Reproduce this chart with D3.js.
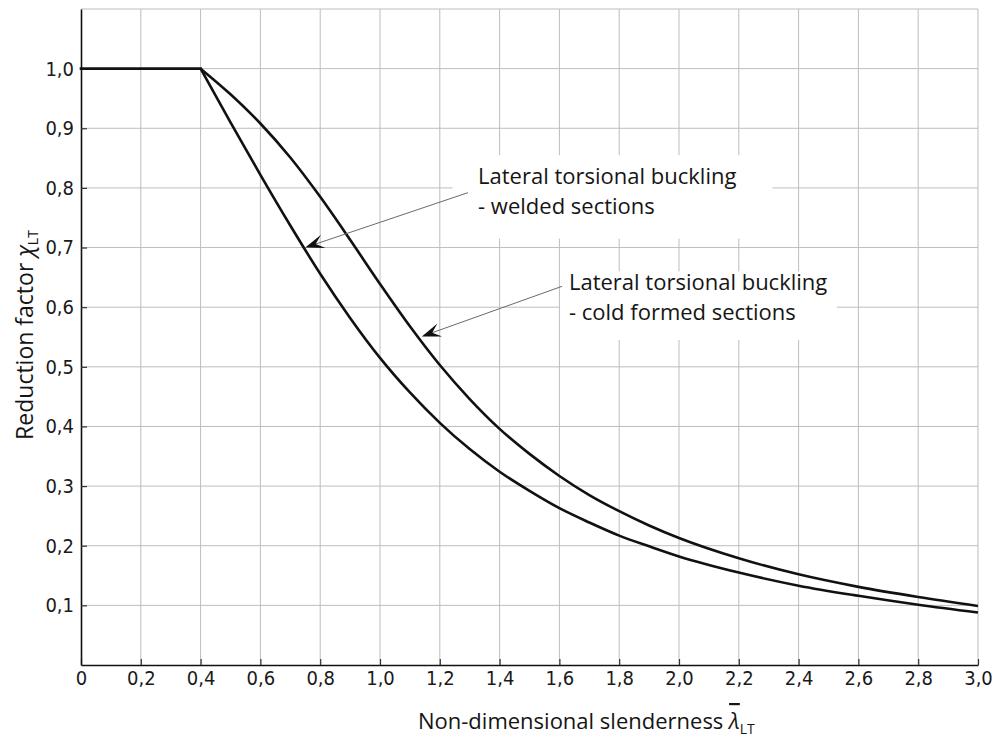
<!DOCTYPE html>
<meta charset="utf-8">
<style>
body { margin: 0; background: #fff; }
.grid line { stroke: #bdbdbd; stroke-width: 1; }
.axis path { stroke: #111; stroke-width: 1.6; }
.axis line { stroke: #333; stroke-width: 1.2; }
.axis text { font-family: "Liberation Sans Narrow", "DejaVu Sans Condensed", sans-serif; font-size: 20px; fill: #1a1a1a; }
.curve { fill: none; stroke: #111; stroke-width: 2.6; }
.note { font: 22px "Open Sans", sans-serif; fill: #151515; }
.title { font: 23px "Open Sans", sans-serif; fill: #151515; }
</style>
<svg width="997" height="738"></svg>
<script src="https://d3js.org/d3.v7.min.js"></script>
<script>

// values
var slenderness = [0.4, 0.5, 0.6, 0.7, 0.8, 0.9, 1.0, 1.1, 1.2, 1.3, 1.4, 1.5, 1.6, 1.7, 1.8, 1.9, 2.0, 2.2, 2.4, 2.6, 2.8, 3.0];
var coldFormed = [1.0, 0.957, 0.908, 0.851, 0.785, 0.713, 0.639, 0.568, 0.503, 0.446, 0.396, 0.354, 0.317, 0.285, 0.258, 0.234, 0.213, 0.179, 0.152, 0.131, 0.114, 0.099];
var welded = [1.0, 0.910, 0.822, 0.737, 0.656, 0.582, 0.515, 0.457, 0.406, 0.362, 0.324, 0.292, 0.263, 0.239, 0.217, 0.199, 0.182, 0.155, 0.133, 0.116, 0.101, 0.088];
var plateauX = [0, 0.4];
var plateauY = [1.0, 1.0];

var xTicks = [0, 0.2, 0.4, 0.6, 0.8, 1.0, 1.2, 1.4, 1.6, 1.8, 2.0, 2.2, 2.4, 2.6, 2.8, 3.0];
var yTicks = [0.1, 0.2, 0.3, 0.4, 0.5, 0.6, 0.7, 0.8, 0.9, 1.0];

var notes = [
  {lines: ["Lateral torsional buckling", "- welded sections"], x: 1.328, y: 0.807,
   box: [1.243, 0.855, 2.313, 0.715], from: [1.294, 0.792], to: [0.75, 0.70]},
  {lines: ["Lateral torsional buckling", "- cold formed sections"], x: 1.632, y: 0.629,
   box: [1.602, 0.66, 2.528, 0.545], from: [1.609, 0.635], to: [1.140, 0.551]}
];

var svg = d3.select("svg");

var x = d3.scaleLinear().domain([0, 3.0]).range([81, 978]);
var y = d3.scaleLinear().domain([0, 1.1]).range([665, 9]);

var fmt = function(d) { return d === 0 ? "0" : d.toFixed(1).replace(".", ","); };

// grid
var grid = svg.append("g").attr("class", "grid");
grid.selectAll(".v")
  .data(xTicks.slice(1))
  .enter().append("line")
    .attr("x1", function(d) { return x(d); })
    .attr("x2", function(d) { return x(d); })
    .attr("y1", y(0))
    .attr("y2", y(1.1));
grid.selectAll(".h")
  .data(yTicks.concat([1.1]))
  .enter().append("line")
    .attr("x1", x(0))
    .attr("x2", x(3.0))
    .attr("y1", function(d) { return y(d); })
    .attr("y2", function(d) { return y(d); });

// white boxes behind the notes
svg.append("g").selectAll("rect")
  .data(notes)
  .enter().append("rect")
    .attr("x", function(d) { return x(d.box[0]); })
    .attr("y", function(d) { return y(d.box[1]); })
    .attr("width", function(d) { return x(d.box[2]) - x(d.box[0]); })
    .attr("height", function(d) { return y(d.box[3]) - y(d.box[1]); })
    .attr("fill", "#fff");

// axes
svg.append("g")
  .attr("class", "axis")
  .attr("transform", "translate(0," + y(0) + ")")
  .call(d3.axisBottom(x).tickValues(xTicks).tickFormat(fmt).tickSize(-6).tickSizeOuter(0).tickPadding(6));

svg.append("g")
  .attr("class", "axis")
  .attr("transform", "translate(" + x(0) + ",0)")
  .call(d3.axisLeft(y).tickValues(yTicks).tickFormat(fmt).tickSize(-6).tickSizeOuter(0).tickPadding(7));

// curves
var line = d3.line()
  .x(function(d) { return x(d[0]); })
  .y(function(d) { return y(d[1]); })
  .curve(d3.curveMonotoneX);

svg.append("path")
  .attr("class", "curve")
  .attr("d", line(d3.zip(plateauX, plateauY)))
  .style("stroke-linecap", "square");

[coldFormed, welded].forEach(function(series) {
  svg.append("path")
    .attr("class", "curve")
    .attr("d", line(d3.zip(slenderness, series)));
});

// arrows
notes.forEach(function(n) {
  var x0 = x(n.from[0]), y0 = y(n.from[1]), x1 = x(n.to[0]), y1 = y(n.to[1]);
  var a = Math.atan2(y1 - y0, x1 - x0);
  var len = 19, half = 7, notch = 11;
  var ux = Math.cos(a), uy = Math.sin(a), px = -uy, py = ux;
  svg.append("line")
    .attr("x1", x0).attr("y1", y0)
    .attr("x2", x1 - ux * notch).attr("y2", y1 - uy * notch)
    .attr("stroke", "#6a6a6a").attr("stroke-width", 1);
  var bx = x1 - ux * len, by = y1 - uy * len;
  svg.append("path")
    .attr("d", "M" + x1 + "," + y1 +
      "L" + (bx + px * half) + "," + (by + py * half) +
      "L" + (x1 - ux * notch) + "," + (y1 - uy * notch) +
      "L" + (bx - px * half) + "," + (by - py * half) + "Z")
    .attr("fill", "#111");
});

// notes, one text per line
notes.forEach(function(n) {
  n.lines.forEach(function(s, i) {
    svg.append("text").attr("class", "note")
      .attr("x", x(n.x))
      .attr("y", y(n.y) + i * 30)
      .text(s);
  });
});

// axis titles
var xt = svg.append("text").attr("class", "title").attr("x", 418).attr("y", 729)
  .style("font-size", "22px");
xt.append("tspan").text("Non-dimensional slenderness ");
xt.append("tspan").style("font-style", "italic").style("text-decoration", "overline").text("λ");
xt.append("tspan").attr("dy", 5).style("font-size", "14px").text("LT");

var yt = svg.append("text").attr("class", "title")
  .attr("transform", "translate(33,335) rotate(-90)")
  .attr("text-anchor", "middle");
yt.append("tspan").text("Reduction factor ");
yt.append("tspan").style("font-style", "italic").text("χ");
yt.append("tspan").attr("dy", 5).style("font-size", "14px").text("LT");

</script>
